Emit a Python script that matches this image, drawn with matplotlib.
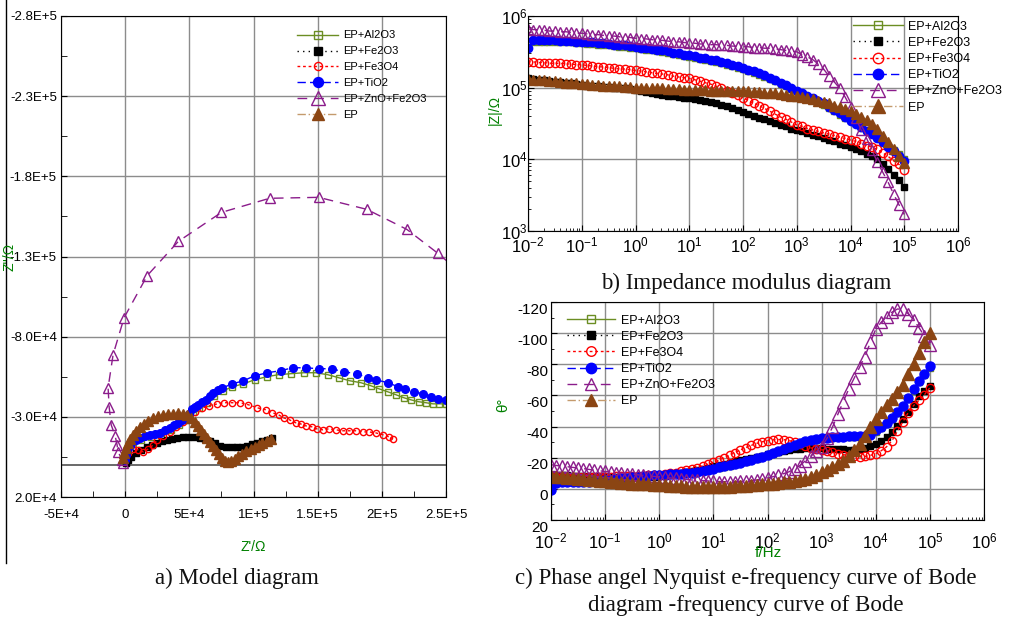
import matplotlib
matplotlib.use('Agg')
import matplotlib.pyplot as plt
import matplotlib.transforms as mtransforms
from matplotlib.lines import Line2D
from matplotlib.ticker import AutoMinorLocator, LogLocator, NullFormatter

plt.rcParams['font.family'] = ['Liberation Sans', 'DejaVu Sans']
plt.rcParams['mathtext.fontset'] = 'custom'
plt.rcParams['mathtext.rm'] = 'Liberation Sans'
plt.rcParams['mathtext.default'] = 'regular'
plt.rcParams['axes.unicode_minus'] = False

# ---- data ----
labels = ['EP+Al2O3', 'EP+Fe2O3', 'EP+Fe3O4', 'EP+TiO2', 'EP+ZnO+Fe2O3', 'EP']

# Nyquist (Z', Z'') in ohm
nyq_al2o3_re = [0, 2.3e3, 6.3e3, 1.25e4, 2.03e4, 2.81e4, 3.59e4, 4.22e4, 4.77e4, 5.31e4,
                5.78e4, 6.41e4, 6.95e4, 7.66e4, 8.36e4, 9.22e4, 1.008e5, 1.102e5, 1.195e5, 1.289e5,
                1.391e5, 1.484e5, 1.578e5, 1.664e5, 1.75e5, 1.836e5, 1.914e5, 1.977e5, 2.047e5, 2.109e5,
                2.172e5, 2.227e5, 2.289e5, 2.344e5, 2.398e5, 2.445e5, 2.5e5]
nyq_al2o3_im = [-2.5e3, -8.8e3, -1.31e4, -1.56e4, -1.75e4, -1.88e4, -2.19e4, -2.5e4, -2.81e4, -3.31e4,
                -3.56e4, -3.88e4, -4.31e4, -4.63e4, -4.88e4, -5.06e4, -5.31e4, -5.5e4, -5.63e4, -5.69e4,
                -5.75e4, -5.75e4, -5.63e4, -5.44e4, -5.25e4, -5.13e4, -4.94e4, -4.75e4, -4.56e4, -4.38e4,
                -4.19e4, -4.06e4, -3.94e4, -3.88e4, -3.81e4, -3.81e4, -3.81e4]
nyq_fe2o3_re = [800, 2.3e3, 4.7e3, 8.6e3, 1.25e4, 1.72e4, 2.11e4, 2.5e4, 2.89e4, 3.28e4,
                3.67e4, 4.06e4, 4.53e4, 4.92e4, 5.39e4, 5.86e4, 6.25e4, 6.64e4, 7.03e4, 7.42e4,
                7.89e4, 8.36e4, 8.75e4, 9.14e4, 9.53e4, 9.92e4, 1.031e5, 1.07e5, 1.109e5, 1.148e5]
nyq_fe2o3_im = [-1.3e3, -3.1e3, -5.0e3, -7.5e3, -9.4e3, -1.13e4, -1.25e4, -1.38e4, -1.5e4, -1.56e4,
                -1.63e4, -1.69e4, -1.75e4, -1.75e4, -1.75e4, -1.69e4, -1.63e4, -1.5e4, -1.38e4, -1.19e4,
                -1.13e4, -1.13e4, -1.13e4, -1.13e4, -1.19e4, -1.31e4, -1.38e4, -1.5e4, -1.56e4, -1.69e4]
nyq_fe3o4_re = [0, 2.3e3, 6.3e3, 1.02e4, 1.41e4, 1.8e4, 2.19e4, 2.5e4, 2.97e4, 3.52e4,
                3.98e4, 4.53e4, 5.0e4, 5.47e4, 6.02e4, 6.56e4, 7.19e4, 7.73e4, 8.36e4, 8.98e4,
                9.61e4, 1.031e5, 1.094e5, 1.148e5, 1.195e5, 1.234e5, 1.281e5, 1.328e5, 1.367e5, 1.406e5,
                1.453e5, 1.492e5, 1.539e5, 1.586e5, 1.641e5, 1.695e5, 1.742e5, 1.797e5, 1.852e5, 1.898e5,
                1.953e5, 2.008e5, 2.055e5, 2.086e5]
nyq_fe3o4_im = [-3.1e3, -7.5e3, -1.0e4, -9.4e3, -8.1e3, -1.0e4, -1.25e4, -1.56e4, -1.81e4, -2.06e4,
                -2.38e4, -2.69e4, -3.06e4, -3.31e4, -3.56e4, -3.69e4, -3.81e4, -3.88e4, -3.88e4, -3.88e4,
                -3.75e4, -3.56e4, -3.44e4, -3.25e4, -3.13e4, -2.94e4, -2.81e4, -2.63e4, -2.56e4, -2.44e4,
                -2.38e4, -2.25e4, -2.19e4, -2.25e4, -2.19e4, -2.13e4, -2.13e4, -2.13e4, -2.06e4, -2.06e4,
                -2.0e4, -1.88e4, -1.75e4, -1.63e4]
nyq_tio2_re = [0, 800, 1.6e3, 3.5e3, 5.5e3, 8.5e3, 1.17e4, 1.56e4, 1.95e4, 2.34e4,
               2.73e4, 3.13e4, 3.52e4, 3.83e4, 4.14e4, 4.41e4, 4.69e4, 4.96e4, 5.23e4, 5.47e4,
               5.7e4, 6.02e4, 6.33e4, 6.6e4, 6.88e4, 7.23e4, 7.58e4, 8.36e4, 9.22e4, 1.008e5,
               1.109e5, 1.211e5, 1.305e5, 1.406e5, 1.508e5, 1.609e5, 1.703e5, 1.805e5, 1.891e5, 1.953e5,
               2.047e5, 2.125e5, 2.18e5, 2.25e5, 2.32e5, 2.383e5, 2.438e5, 2.5e5]
nyq_tio2_im = [-3.1e3, -6.3e3, -9.4e3, -1.19e4, -1.44e4, -1.56e4, -1.69e4, -1.78e4, -1.88e4, -1.94e4,
               -2.0e4, -2.16e4, -2.31e4, -2.47e4, -2.63e4, -2.78e4, -2.94e4, -3.2e4, -3.5e4, -3.63e4,
               -3.75e4, -3.91e4, -4.06e4, -4.28e4, -4.5e4, -4.66e4, -4.81e4, -5.06e4, -5.25e4, -5.56e4,
               -5.75e4, -5.88e4, -6.06e4, -6.06e4, -6.0e4, -6.0e4, -5.81e4, -5.69e4, -5.44e4, -5.31e4,
               -5.13e4, -4.88e4, -4.75e4, -4.56e4, -4.44e4, -4.25e4, -4.13e4, -4.06e4]
nyq_zno_re = [-1.6e3, -2.3e3, -5.5e3, -6.3e3, -7.8e3, -1.09e4, -1.25e4, -1.33e4, -9.4e3, -800,
              1.72e4, 4.14e4, 7.5e4, 1.125e5, 1.508e5, 1.883e5, 2.195e5, 2.438e5, 2.7e5]
nyq_zno_im = [-1.3e3, -3.1e3, -8.1e3, -1.25e4, -1.81e4, -2.5e4, -3.63e4, -4.81e4, -6.88e4, -9.19e4,
              -1.181e5, -1.394e5, -1.575e5, -1.663e5, -1.669e5, -1.594e5, -1.469e5, -1.319e5, -1.14e5]
nyq_ep_re = [-1.6e3, -800, 800, 2.3e3, 3.9e3, 6.3e3, 8.6e3, 1.17e4, 1.48e4, 1.8e4,
             2.19e4, 2.58e4, 2.97e4, 3.36e4, 3.75e4, 4.14e4, 4.53e4, 4.84e4, 5.16e4, 5.47e4,
             5.7e4, 5.94e4, 6.17e4, 6.41e4, 6.64e4, 6.88e4, 7.11e4, 7.34e4, 7.58e4, 7.81e4,
             8.05e4, 8.28e4, 8.52e4, 8.83e4, 9.14e4, 9.45e4, 9.77e4, 1.008e5, 1.039e5, 1.07e5,
             1.102e5, 1.133e5]
nyq_ep_im = [-4.4e3, -7.5e3, -1.06e4, -1.38e4, -1.63e4, -1.88e4, -2.13e4, -2.38e4, -2.56e4, -2.75e4,
             -2.94e4, -3.06e4, -3.13e4, -3.19e4, -3.19e4, -3.25e4, -3.19e4, -3.13e4, -2.94e4, -2.69e4,
             -2.44e4, -2.19e4, -1.94e4, -1.69e4, -1.44e4, -1.19e4, -9.4e3, -6.9e3, -4.4e3, -2.5e3,
             -1.9e3, -2.5e3, -3.8e3, -5.6e3, -6.9e3, -8.8e3, -1.0e4, -1.13e4, -1.25e4, -1.38e4,
             -1.5e4, -1.63e4]

# Bode: measured frequencies, 10 per decade from 0.01 Hz to 100 kHz
mantissa = [1.0, 1.26, 1.58, 2.0, 2.51, 3.16, 3.98, 5.01, 6.31, 7.94]
decades = [1e-2, 1e-1, 1e0, 1e1, 1e2, 1e3, 1e4]
freq = [m * d for d in decades for m in mantissa] + [1e5]

mod_al2o3 = [4.37e5, 4.37e5, 4.37e5, 4.37e5, 4.37e5, 4.37e5, 4.27e5, 4.27e5, 4.27e5, 4.17e5,
             4.17e5, 4.07e5, 4.07e5, 3.98e5, 3.98e5, 3.89e5, 3.80e5, 3.72e5, 3.72e5, 3.63e5,
             3.55e5, 3.47e5, 3.39e5, 3.31e5, 3.24e5, 3.16e5, 3.09e5, 2.95e5, 2.88e5, 2.75e5,
             2.69e5, 2.63e5, 2.51e5, 2.45e5, 2.34e5, 2.29e5, 2.19e5, 2.09e5, 2.00e5, 1.91e5,
             1.82e5, 1.70e5, 1.62e5, 1.51e5, 1.41e5, 1.32e5, 1.23e5, 1.12e5, 1.05e5, 9.55e4,
             8.71e4, 8.13e4, 7.41e4, 6.92e4, 6.31e4, 5.75e4, 5.13e4, 4.68e4, 4.17e4, 3.72e4,
             3.39e4, 3.09e4, 2.75e4, 2.51e4, 2.24e4, 2.00e4, 1.78e4, 1.55e4, 1.35e4, 1.17e4, 1.02e4]
mod_fe2o3 = [1.35e5, 1.32e5, 1.29e5, 1.26e5, 1.23e5, 1.20e5, 1.20e5, 1.17e5, 1.15e5, 1.12e5,
             1.10e5, 1.07e5, 1.07e5, 1.05e5, 1.02e5, 1.02e5, 1.00e5, 9.77e4, 9.77e4, 9.55e4,
             9.33e4, 9.12e4, 8.71e4, 8.51e4, 8.13e4, 7.94e4, 7.76e4, 7.59e4, 7.41e4, 7.24e4,
             7.08e4, 6.92e4, 6.76e4, 6.61e4, 6.31e4, 6.17e4, 5.75e4, 5.50e4, 5.13e4, 4.90e4,
             4.57e4, 4.27e4, 4.07e4, 3.80e4, 3.63e4, 3.39e4, 3.24e4, 3.02e4, 2.88e4, 2.69e4,
             2.57e4, 2.45e4, 2.34e4, 2.19e4, 2.09e4, 2.00e4, 1.86e4, 1.78e4, 1.66e4, 1.58e4,
             1.48e4, 1.38e4, 1.29e4, 1.20e4, 1.12e4, 1.00e4, 8.71e3, 7.41e3, 6.03e3, 5.13e3, 4.07e3]
mod_fe3o4 = [2.29e5, 2.29e5, 2.24e5, 2.24e5, 2.19e5, 2.19e5, 2.19e5, 2.14e5, 2.14e5, 2.09e5,
             2.09e5, 2.04e5, 2.00e5, 1.95e5, 1.95e5, 1.91e5, 1.86e5, 1.82e5, 1.82e5, 1.78e5,
             1.74e5, 1.70e5, 1.66e5, 1.62e5, 1.58e5, 1.55e5, 1.51e5, 1.45e5, 1.41e5, 1.38e5,
             1.35e5, 1.29e5, 1.23e5, 1.17e5, 1.12e5, 1.05e5, 9.77e4, 9.12e4, 8.51e4, 7.94e4,
             7.24e4, 6.61e4, 6.03e4, 5.62e4, 5.13e4, 4.68e4, 4.27e4, 3.89e4, 3.63e4, 3.31e4,
             3.02e4, 2.88e4, 2.69e4, 2.57e4, 2.45e4, 2.34e4, 2.24e4, 2.14e4, 2.04e4, 1.95e4,
             1.86e4, 1.78e4, 1.66e4, 1.55e4, 1.48e4, 1.38e4, 1.23e4, 1.10e4, 9.55e3, 8.51e3, 7.08e3]
mod_tio2 = [3.55e5, 4.57e5, 4.57e5, 4.57e5, 4.57e5, 4.57e5, 4.47e5, 4.47e5, 4.47e5, 4.37e5,
            4.37e5, 4.27e5, 4.27e5, 4.17e5, 4.17e5, 4.07e5, 3.98e5, 3.89e5, 3.89e5, 3.80e5,
            3.72e5, 3.63e5, 3.55e5, 3.47e5, 3.39e5, 3.31e5, 3.24e5, 3.09e5, 3.02e5, 2.88e5,
            2.82e5, 2.75e5, 2.63e5, 2.57e5, 2.45e5, 2.40e5, 2.29e5, 2.19e5, 2.09e5, 2.00e5,
            1.91e5, 1.78e5, 1.70e5, 1.58e5, 1.48e5, 1.38e5, 1.29e5, 1.17e5, 1.10e5, 1.00e5,
            9.12e4, 8.51e4, 7.76e4, 7.24e4, 6.61e4, 6.03e4, 5.37e4, 4.90e4, 4.37e4, 3.89e4,
            3.47e4, 3.16e4, 2.82e4, 2.51e4, 2.24e4, 2.00e4, 1.74e4, 1.51e4, 1.29e4, 1.12e4, 9.55e3]
mod_zno = [6.61e5, 6.46e5, 6.46e5, 6.31e5, 6.17e5, 6.17e5, 6.03e5, 6.03e5, 5.89e5, 5.75e5,
           5.75e5, 5.62e5, 5.50e5, 5.50e5, 5.37e5, 5.25e5, 5.25e5, 5.13e5, 5.01e5, 5.01e5,
           4.90e5, 4.79e5, 4.79e5, 4.68e5, 4.57e5, 4.57e5, 4.47e5, 4.37e5, 4.37e5, 4.27e5,
           4.17e5, 4.17e5, 4.07e5, 4.07e5, 3.98e5, 3.98e5, 3.89e5, 3.89e5, 3.80e5, 3.80e5,
           3.72e5, 3.72e5, 3.63e5, 3.63e5, 3.55e5, 3.55e5, 3.47e5, 3.39e5, 3.31e5, 3.24e5,
           3.16e5, 2.88e5, 2.69e5, 2.45e5, 2.14e5, 1.82e5, 1.45e5, 1.20e5, 9.77e4, 7.41e4,
           5.37e4, 3.72e4, 2.57e4, 1.95e4, 1.35e4, 9.12e3, 6.61e3, 4.79e3, 3.31e3, 2.34e3, 1.70e3]
mod_ep = [1.32e5, 1.29e5, 1.29e5, 1.26e5, 1.23e5, 1.23e5, 1.20e5, 1.17e5, 1.17e5, 1.15e5,
          1.12e5, 1.12e5, 1.10e5, 1.10e5, 1.07e5, 1.07e5, 1.05e5, 1.05e5, 1.02e5, 1.02e5,
          1.00e5, 1.00e5, 1.00e5, 9.77e4, 9.77e4, 9.77e4, 9.55e4, 9.55e4, 9.55e4, 9.33e4,
          9.33e4, 9.33e4, 9.33e4, 9.33e4, 9.12e4, 9.12e4, 9.12e4, 9.12e4, 9.12e4, 8.91e4,
          8.91e4, 8.91e4, 8.71e4, 8.71e4, 8.51e4, 8.32e4, 8.32e4, 8.13e4, 7.94e4, 7.76e4,
          7.59e4, 7.41e4, 7.08e4, 6.92e4, 6.61e4, 6.31e4, 6.03e4, 5.62e4, 5.37e4, 5.01e4,
          4.68e4, 4.27e4, 3.89e4, 3.55e4, 3.16e4, 2.63e4, 2.14e4, 1.74e4, 1.41e4, 1.12e4, 8.91e3]

ph_al2o3 = [-7.5, -7.0, -6.8, -6.6, -6.5, -6.4, -6.4, -6.5, -6.6, -6.8,
            -7.0, -7.2, -7.4, -7.6, -7.8, -8.0, -8.2, -8.4, -8.6, -8.8,
            -9.0, -9.2, -9.4, -9.6, -9.8, -10.0, -10.3, -10.8, -11.4, -12.0,
            -12.7, -13.4, -14.1, -14.9, -15.7, -16.5, -17.4, -18.3, -19.3, -20.3,
            -21.3, -22.4, -23.7, -25.0, -26.4, -27.6, -28.8, -30.0, -30.9, -31.5,
            -32.0, -32.4, -32.7, -33.0, -33.2, -33.3, -33.3, -33.4, -33.7, -34.4,
            -36.8, -39.2, -41.7, -44.6, -48.5, -52.5, -57.5, -63.0, -68.5, -73.0, -77.5]
ph_fe2o3 = [-8.9, -8.8, -8.7, -8.6, -8.5, -8.4, -8.3, -8.2, -8.1, -8.0,
            -8.0, -7.9, -7.9, -7.9, -7.9, -7.9, -7.9, -7.9, -7.9, -7.9,
            -8.0, -8.4, -8.9, -9.5, -10.1, -10.7, -11.3, -12.0, -12.8, -13.6,
            -14.4, -15.1, -15.8, -16.6, -17.6, -18.6, -19.3, -20.0, -20.7, -21.4,
            -22.1, -22.8, -23.5, -24.2, -24.9, -25.3, -25.7, -26.0, -26.1, -26.1,
            -26.1, -25.9, -25.7, -25.5, -25.3, -25.1, -25.0, -25.3, -26.1, -27.3,
            -28.6, -30.5, -33.6, -36.3, -40.5, -45.0, -49.5, -54.5, -59.5, -63.0, -65.8]
ph_fe3o4 = [-7.9, -7.9, -7.9, -7.9, -7.9, -7.9, -7.9, -7.9, -7.9, -7.9,
            -7.9, -7.9, -8.0, -8.1, -8.2, -8.3, -8.4, -8.5, -8.7, -8.8,
            -9.0, -9.4, -9.9, -10.5, -11.2, -11.9, -12.6, -13.5, -14.5, -15.7,
            -17.0, -18.4, -19.9, -21.6, -23.3, -25.0, -26.5, -27.9, -29.2, -30.2,
            -31.0, -31.5, -31.7, -31.6, -31.0, -30.0, -28.8, -27.4, -26.3, -25.6,
            -25.1, -24.5, -23.5, -22.7, -22.0, -21.4, -20.9, -20.6, -20.8, -21.5,
            -22.6, -24.5, -27.0, -31.0, -37.0, -43.0, -49.0, -53.5, -57.0, -60.5, -65.0]
ph_tio2 = [0.5, -4.0, -4.2, -4.3, -4.4, -4.5, -4.6, -4.7, -4.9, -5.2,
           -5.5, -5.9, -6.3, -6.7, -7.0, -7.4, -7.8, -8.1, -8.5, -8.8,
           -9.0, -9.2, -9.4, -9.6, -9.8, -10.0, -10.3, -10.9, -11.6, -12.3,
           -13.0, -13.8, -14.5, -15.3, -16.1, -16.9, -17.8, -18.7, -19.7, -20.7,
           -21.7, -22.8, -24.2, -25.6, -27.0, -28.2, -29.4, -30.6, -31.4, -32.0,
           -32.4, -32.8, -33.1, -33.4, -33.6, -33.7, -33.7, -33.8, -34.1, -34.8,
           -37.5, -40.0, -42.5, -45.5, -49.5, -53.5, -58.5, -64.0, -69.5, -74.0, -79.0]
ph_zno = [-15.5, -15.0, -14.6, -14.2, -13.8, -13.4, -13.0, -12.5, -12.0, -11.6,
          -11.2, -10.9, -10.5, -10.1, -9.8, -9.4, -9.0, -8.7, -8.3, -8.0,
          -7.7, -7.4, -7.0, -6.7, -6.3, -6.0, -5.7, -5.5, -5.3, -5.1,
          -4.9, -4.7, -4.6, -4.6, -4.7, -4.8, -5.0, -5.3, -5.7, -6.3,
          -7.0, -7.8, -8.8, -9.8, -11.0, -12.8, -15.0, -18.0, -21.0, -24.0,
          -27.0, -32.5, -39.5, -48.0, -56.0, -64.0, -71.0, -78.0, -85.0, -94.0,
          -102.5, -107.0, -110.5, -113.5, -115.5, -115.3, -112.5, -108.5, -103.5, -98.0, -92.5]
ph_ep = [-8.0, -7.7, -7.4, -7.1, -6.8, -6.5, -6.2, -5.8, -5.5, -5.2,
         -4.9, -4.6, -4.3, -3.9, -3.6, -3.4, -3.2, -3.0, -2.8, -2.6,
         -2.5, -2.3, -2.1, -1.9, -1.7, -1.5, -1.4, -1.4, -1.3, -1.3,
         -1.3, -1.3, -1.4, -1.5, -1.7, -1.9, -2.1, -2.3, -2.5, -2.8,
         -3.1, -3.4, -3.8, -4.2, -4.6, -5.1, -5.8, -6.6, -7.8, -9.2,
         -10.6, -12.2, -13.9, -15.7, -18.0, -21.2, -24.8, -28.8, -34.0, -40.0,
         -45.0, -49.5, -54.0, -58.0, -62.0, -67.0, -73.5, -80.5, -87.5, -94.0, -100.0]

nyq_xticks = [-5e4, 0, 5e4, 1e5, 1.5e5, 2e5, 2.5e5]
nyq_xlabels = ['-5E+4', '0', '5E+4', '1E+5', '1.5E+5', '2E+5', '2.5E+5']
nyq_yticks = [-2.8e5, -2.3e5, -1.8e5, -1.3e5, -8e4, -3e4, 2e4]
nyq_ylabels = ['-2.8E+5', '-2.3E+5', '-1.8E+5', '-1.3E+5', '-8.0E+4', '-3.0E+4', '2.0E+4']
phase_ticks = [-120, -100, -80, -60, -40, -20, 0, 20]

nyq_re = [nyq_al2o3_re, nyq_fe2o3_re, nyq_fe3o4_re, nyq_tio2_re, nyq_zno_re, nyq_ep_re]
nyq_im = [nyq_al2o3_im, nyq_fe2o3_im, nyq_fe3o4_im, nyq_tio2_im, nyq_zno_im, nyq_ep_im]
bode_mod = [mod_al2o3, mod_fe2o3, mod_fe3o4, mod_tio2, mod_zno, mod_ep]
bode_ph = [ph_al2o3, ph_fe2o3, ph_fe3o4, ph_tio2, ph_zno, ph_ep]

# ---- styles ----
olive, purple, brown = '#6b8e23', '#8b1c8b', '#8b4513'
styles = [
    dict(color=olive, ls='-', marker='s', mfc='none', mec=olive),
    dict(color='black', ls=(0, (1, 3)), marker='s', mfc='black', mec='black'),
    dict(color='red', ls=(0, (2, 2)), marker='o', mfc='none', mec='red'),
    dict(color='blue', ls=(0, (6, 3)), marker='o', mfc='blue', mec='blue'),
    dict(color=purple, ls=(0, (7, 5)), marker='^', mfc='none', mec=purple),
    dict(color='#c49a6c', ls=(0, (6, 2, 1, 2)), marker='^', mfc=brown, mec=brown),
]
ms_nyq = [4.5, 4.5, 4.5, 5.5, 7.5, 6.5]
ms_mod = [5, 4.5, 6, 6, 7.5, 7.5]
ms_ph = [5, 5, 6, 6.5, 8, 8]

W, H = 1032, 619
green_lab = '#008000'
grid_kw = dict(color='#8c8c8c', lw=1.0)


def box(x0, y0, x1, y1):
    return [x0 / W, 1 - y1 / H, (x1 - x0) / W, (y1 - y0) / H]


def legend_at(ax, handles, x, y, size, hl, pad, spacing, scale=1.0):
    ax.legend(handles, labels, loc='upper left', bbox_to_anchor=(x / W, 1 - y / H),
              bbox_transform=fig.transFigure, frameon=False, borderpad=0, borderaxespad=0,
              handlelength=hl, handletextpad=pad, labelspacing=spacing, numpoints=1,
              markerscale=scale, prop={'family': 'Liberation Sans', 'size': size})


fig = plt.figure(figsize=(W / 100, H / 100), dpi=100)

# a) Nyquist
ax1 = fig.add_axes(box(61, 16, 446, 497))
hs = []
for re, im, st, ms in zip(nyq_re, nyq_im, styles, ms_nyq):
    h, = ax1.plot(re, im, lw=1, ms=ms, mew=1, **st)
    hs.append(h)
ax1.axhline(0, color='#505050', lw=1.2, zorder=1.5)
ax1.set_xlim(-5e4, 2.5e5)
ax1.set_ylim(2e4, -2.8e5)
ax1.set_xticks(nyq_xticks, nyq_xlabels)
ax1.set_yticks(nyq_yticks, nyq_ylabels)
ax1.xaxis.set_minor_locator(AutoMinorLocator(2))
ax1.yaxis.set_minor_locator(AutoMinorLocator(2))
ax1.grid(True, which='major', **grid_kw)
ax1.set_axisbelow(True)
ax1.tick_params(which='both', direction='in', top=False, right=False, length=4, labelsize=9.5)
ax1.tick_params(axis='x', pad=9)
ax1.tick_params(axis='y', pad=3)
legend_at(ax1, hs, 297, 30.5, 8, 3.7, 0.45, 0.53, 1.3)

# b) |Z|
ax2 = fig.add_axes(box(528, 16, 958, 231))
hs = []
for m, st, ms in zip(bode_mod, styles, ms_mod):
    h, = ax2.plot(freq, m, lw=1, ms=ms, mew=1, **st)
    hs.append(h)
ax2.set_xscale('log')
ax2.set_yscale('log')
ax2.set_xlim(1e-2, 1e6)
ax2.set_ylim(1e3, 1e6)
ax2.xaxis.set_major_locator(LogLocator(base=10, numticks=20))
ax2.xaxis.set_minor_locator(LogLocator(base=10, subs=range(2, 10), numticks=20))
ax2.xaxis.set_minor_formatter(NullFormatter())
ax2.grid(True, which='major', **grid_kw)
ax2.set_axisbelow(True)
ax2.tick_params(which='both', direction='in', top=False, right=False, labelsize=12)
ax2.tick_params(which='major', length=4)
ax2.tick_params(which='minor', length=2.5)
ax2.tick_params(axis='x', pad=3)
ax2.tick_params(axis='y', pad=0)
legend_at(ax2, hs, 853, 20.5, 9, 4.0, 0.4, 0.34, 1.25)

# c) phase
ax3 = fig.add_axes(box(551, 302, 984, 520))
hs = []
for p, st, ms in zip(bode_ph, styles, ms_ph):
    h, = ax3.plot(freq, p, lw=1, ms=ms, mew=1, **st)
    hs.append(h)
ax3.set_xscale('log')
ax3.set_xlim(1e-2, 1e6)
ax3.set_ylim(20, -120)
ax3.set_yticks(phase_ticks)
ax3.yaxis.set_minor_locator(AutoMinorLocator(2))
ax3.xaxis.set_major_locator(LogLocator(base=10, numticks=20))
ax3.xaxis.set_minor_locator(LogLocator(base=10, subs=range(2, 10), numticks=20))
ax3.xaxis.set_minor_formatter(NullFormatter())
ax3.grid(True, which='major', **grid_kw)
ax3.set_axisbelow(True)
ax3.tick_params(which='both', direction='in', top=False, right=False)
ax3.tick_params(which='major', length=4)
ax3.tick_params(which='minor', length=2.5)
ax3.tick_params(axis='x', labelsize=12, pad=8)
ax3.tick_params(axis='y', labelsize=11, pad=2)
shift = mtransforms.ScaledTranslation(0, -6 / 100, fig.dpi_scale_trans)
for lab in ax3.get_yticklabels():
    lab.set_transform(lab.get_transform() + shift)
legend_at(ax3, hs, 567, 314.5, 9, 3.8, 0.55, 0.33, 1.15)

# axis titles
fig.text(10 / W, 1 - 257 / H, "Z''/\u03a9", rotation=90, color=green_lab, fontsize=10, ha='center', va='center')
fig.text(253 / W, 1 - 547 / H, "Z'/\u03a9", color=green_lab, fontsize=10, ha='center', va='center')
fig.text(495 / W, 1 - 110 / H, '|Z|/\u03a9', rotation=90, color=green_lab, fontsize=10, ha='center', va='center')
fig.text(503 / W, 1 - 405 / H, '\u03b8\u00b0', rotation=90, color=green_lab, fontsize=11, ha='center', va='center')
fig.text(768 / W, 1 - 553 / H, 'f/Hz', color=green_lab, fontsize=11, ha='center', va='center')

# captions
cap = dict(family='Liberation Serif', fontsize=16.5, ha='center', va='center', color='#111111')
fig.text(237 / W, 1 - 578 / H, 'a) Model diagram', **cap)
fig.text(746 / W, 1 - 283 / H, 'b) Impedance modulus diagram', **cap)
fig.text(746 / W, 1 - 578 / H, 'c) Phase angel Nyquist e-frequency curve of Bode', **cap)
fig.text(746 / W, 1 - 606 / H, 'diagram -frequency curve of Bode', **cap)

# left border of the original picture
fig.add_artist(Line2D([5.5 / W, 5.5 / W], [1, 1 - 563 / H], transform=fig.transFigure, color='black', lw=1))

fig.savefig('out.png', dpi=100, facecolor='white')
